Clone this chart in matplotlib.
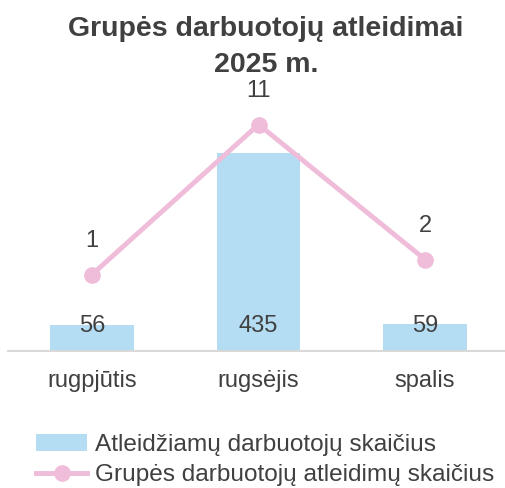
import matplotlib.pyplot as plt
import numpy as np

plt.rcParams['font.family'] = ['Liberation Sans', 'DejaVu Sans']

months = ['rugpjūtis', 'rugsėjis', 'spalis']
atleidziami = [56, 435, 59]
grupes_atleidimai = [1, 11, 2]

bar_color = '#b4dcf2'
line_color = '#efbcd9'
text_color = '#404040'

fig = plt.figure(figsize=(5.05, 4.88), dpi=100)
ax = fig.add_axes([8 / 505, (488 - 351) / 488, 497 / 505, 228 / 488])
ax2 = ax.twinx()

x = np.arange(len(months))
ax.bar(x, atleidziami, width=0.5, color=bar_color, zorder=2,
       label='Atleidžiamų darbuotojų skaičius')
for xi, v in zip(x, atleidziami):
    ax.text(xi, 55, str(v), ha='center', va='center', fontsize=17,
            color=text_color, zorder=3)

ax2.plot(x, grupes_atleidimai, color=line_color, lw=3.5, marker='o', ms=11,
         zorder=4, clip_on=False, label='Grupės darbuotojų atleidimų skaičius')
for xi, v in zip(x, grupes_atleidimai):
    ax2.annotate(str(v), (xi, v), xytext=(0, 24), textcoords='offset points',
                 ha='center', va='center', fontsize=17, color=text_color)

ax.set_xlim(-0.505, 2.48)
ax.set_ylim(0, 500)
ax2.set_ylim(-4.1, 11.1)

for a in (ax, ax2):
    for s in a.spines.values():
        s.set_visible(False)
    a.set_yticks([])
ax.spines['bottom'].set_visible(True)
ax.spines['bottom'].set_color('#d9d9d9')
ax.spines['bottom'].set_linewidth(1.5)
ax.set_xticks(x)
ax.set_xticklabels(months, fontsize=17, color=text_color)
ax.tick_params(axis='x', length=0, pad=14)

fig.text(266 / 505, 1 - 47 / 488, 'Grupės darbuotojų atleidimai\n2025 m.',
         ha='center', va='center', fontsize=20.5, fontweight='bold',
         color=text_color, linespacing=1.45)

h1, l1 = ax.get_legend_handles_labels()
h2, l2 = ax2.get_legend_handles_labels()
fig.legend(h1 + h2, l1 + l2, loc='upper left',
           bbox_to_anchor=(36 / 505, 1 - 434 / 488), frameon=False,
           fontsize=17.6, labelcolor=text_color, handlelength=2.1,
           handletextpad=0.3, labelspacing=0.33, borderaxespad=0,
           borderpad=0)

fig.savefig('out.png', dpi=100)
